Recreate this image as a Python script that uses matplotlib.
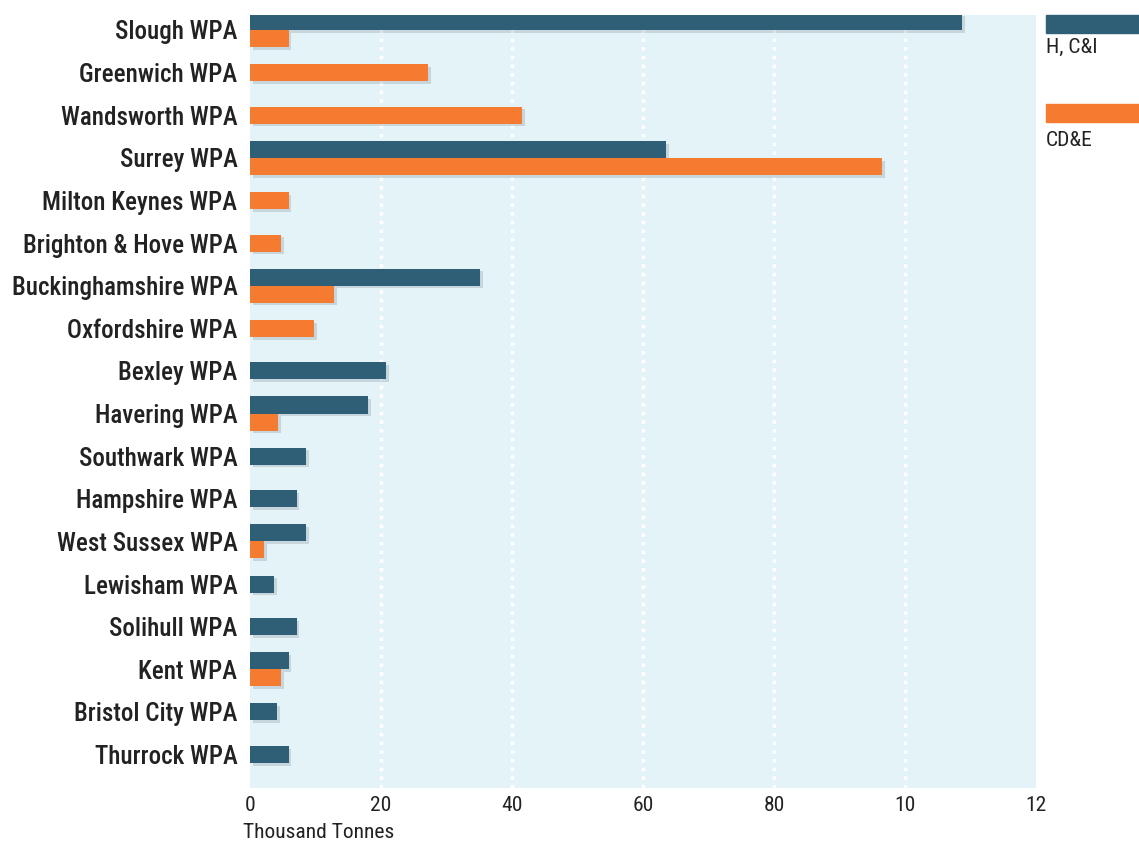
import matplotlib.pyplot as plt
import matplotlib.patheffects as pe
from matplotlib import font_manager
from matplotlib.patches import Rectangle
import numpy as np

# pick a narrow-ish font if one is installed
names = {f.name for f in font_manager.fontManager.ttflist}
family = 'DejaVu Sans'
for cand in ['Roboto Condensed', 'Liberation Sans Narrow', 'Open Sans Condensed', 'Roboto', 'Lato']:
    if cand in names:
        family = cand
        break
plt.rcParams['font.family'] = [family, 'DejaVu Sans']

# data (thousand tonnes)
categories = ['Slough WPA', 'Greenwich WPA', 'Wandsworth WPA', 'Surrey WPA',
              'Milton Keynes WPA', 'Brighton & Hove WPA', 'Buckinghamshire WPA',
              'Oxfordshire WPA', 'Bexley WPA', 'Havering WPA', 'Southwark WPA',
              'Hampshire WPA', 'West Sussex WPA', 'Lewisham WPA', 'Solihull WPA',
              'Kent WPA', 'Bristol City WPA', 'Thurrock WPA']
hci = [108.7, 0, 0, 63.5, 0, 0, 35.1, 0, 20.8, 18.0, 8.6, 7.1, 8.6, 3.7, 7.1, 5.9, 4.1, 5.9]
cde = [5.9, 27.2, 41.5, 96.5, 5.9, 4.7, 12.8, 9.8, 0, 4.3, 0, 0, 2.2, 0, 0, 4.7, 0, 0]
series_names = ['H, C&I', 'CD&E']
tick_vals = [0, 20, 40, 60, 80, 100, 120]
tick_labels = ['0', '20', '40', '60', '80', '10', '12']

blue = '#2e5f77'
orange = '#f47b30'
bg = '#e4f3f7'
txt = '#222222'

fig = plt.figure(figsize=(11.39, 8.44), dpi=100)
ax = fig.add_axes([250 / 1139, 1 - 788 / 844, (1036 - 250) / 1139, (788 - 15) / 844])
ax.set_facecolor(bg)

# size the category labels so the longest one fits the space left of the axes
renderer = fig.canvas.get_renderer()
probe = fig.text(0, 0, max(categories, key=len), fontsize=10, fontweight='medium')
w10 = probe.get_window_extent(renderer).width
probe.remove()
label_size = min(10 * 229 / w10, 18)
small_size = label_size * 0.86

h = 0.4
shadow = [pe.SimplePatchShadow(offset=(2, -2), alpha=0.18, shadow_rgbFace='#445566'), pe.Normal()]
for i, (a, b) in enumerate(zip(hci, cde)):
    both = a > 0 and b > 0
    if a > 0:
        y = i - h / 2 if both else i
        bar = ax.barh(y, a, height=h, color=blue, zorder=3)
        for p in bar:
            p.set_path_effects(shadow)
    if b > 0:
        y = i + h / 2 if both else i
        bar = ax.barh(y, b, height=h, color=orange, zorder=3)
        for p in bar:
            p.set_path_effects(shadow)

ax.set_xlim(0, 120)
ax.set_ylim(17.785, -0.35)
ax.set_yticks(np.arange(len(categories)))
ax.set_yticklabels(categories, fontsize=label_size, color=txt, fontweight='medium')
ax.set_xticks(tick_vals)
ax.set_xticklabels(tick_labels, fontsize=small_size, color=txt)
ax.tick_params(axis='x', length=0, pad=6)
ax.tick_params(axis='y', length=0, pad=9)
for v in tick_vals[1:-1]:
    ax.axvline(v, color='white', lw=2.5, ls=(0, (1, 1.5)), zorder=1)
for s in ax.spines.values():
    s.set_visible(False)
fig.text(243 / 1139, 1 - 832 / 844, 'Thousand Tonnes', fontsize=small_size, color=txt,
         ha='left', va='center')

# legend at right edge
leg_colors = [blue, orange]
leg_y = [15, 104]
leg_text_off = [32, 36]
for name, c, y0, off in zip(series_names, leg_colors, leg_y, leg_text_off):
    fig.patches.append(Rectangle((1046 / 1139, 1 - (y0 + 18) / 844), 0.2, 18 / 844,
                                 transform=fig.transFigure, color=c, zorder=3))
    fig.text(1046 / 1139, 1 - (y0 + off) / 844, name, fontsize=small_size, color=txt,
             ha='left', va='center')

plt.savefig('out.png', dpi=100)
